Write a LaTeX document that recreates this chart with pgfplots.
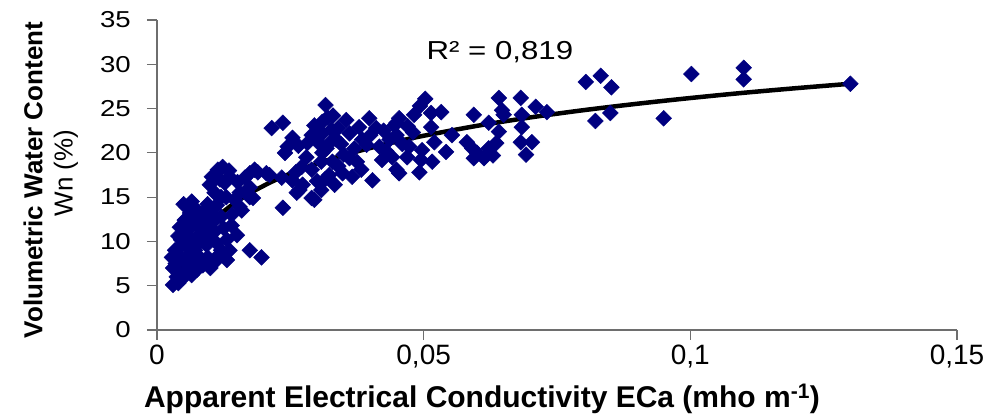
\documentclass[border=0pt]{standalone}
\usepackage{fontspec}
\setmainfont{Liberation Sans}
\usepackage{pgfplots}
\pgfplotsset{compat=1.18}
\definecolor{navy}{RGB}{0,0,128}
\definecolor{axgray}{RGB}{110,110,110}
\begin{document}
\begin{tikzpicture}
\path[use as bounding box] (0,0) rectangle (994pt,419pt);
\begin{axis}[
  at={(157pt,89pt)}, anchor=south west,
  width=800pt, height=310pt, scale only axis,
  xmin=0, xmax=0.15, ymin=0, ymax=35,
  axis lines*=left,
  axis line style={axgray, line width=1.2pt},
  tick style={axgray, line width=1.2pt},
  tick align=outside, major tick length=10pt,
  xtick={0,0.05,0.1,0.15},
  xticklabels={0,{0,05},{0,1},{0,15}},
  ytick={0,5,...,35},
  /pgf/number format/assume math mode=true,
  yticklabel style={font=\fontsize{23}{26}\selectfont, xscale=1.2, xshift=-10pt},
  xticklabel style={font=\fontsize{28}{30}\selectfont, yshift=-1pt},
  clip=false,
]
\addplot[only marks, mark=square*, mark size=5.6pt, color=navy,
  every mark/.append style={rotate=45}] coordinates {
(0.0030,5.1) (0.0037,6.0) (0.0030,7.0) (0.0028,8.2) (0.0034,9.0) (0.0043,9.3)
(0.0049,7.9) (0.0056,6.8) (0.0049,5.9) (0.0067,7.6) (0.0080,8.2) (0.0095,8.2)
(0.0112,7.9) (0.0131,7.9) (0.0136,9.0) (0.0150,10.7) (0.0131,10.2) (0.0112,9.8)
(0.0093,9.6) (0.0080,9.9) (0.0071,9.0) (0.0062,10.4) (0.0049,11.0) (0.0043,11.6)
(0.0052,12.4) (0.0062,13.2) (0.0075,13.5) (0.0090,13.5) (0.0103,13.0) (0.0095,11.9)
(0.0080,11.6) (0.0067,12.1) (0.0058,11.3) (0.0108,11.1) (0.0075,6.8) (0.0086,7.3)
(0.0040,6.5) (0.0060,8.5) (0.0114,18.1) (0.0103,17.3) (0.0099,16.4) (0.0108,15.5)
(0.0112,14.1) (0.0127,16.6) (0.0136,17.3) (0.0151,16.7) (0.0155,15.5) (0.0146,14.7)
(0.0159,13.5) (0.0174,17.7) (0.0140,13.0) (0.0174,9.0) (0.0196,8.2) (0.0123,18.4)
(0.0189,17.8) (0.0205,17.7) (0.0174,16.1) (0.0155,13.9) (0.0174,15.0) (0.0120,15.0)
(0.0065,14.5)
(0.0035,7.5) (0.0045,8.0) (0.0055,9.5) (0.0065,9.8) (0.0075,10.5) (0.0085,11.0)
(0.0100,10.3) (0.0120,9.0) (0.0125,11.5) (0.0105,12.2) (0.0085,12.5) (0.0070,13.0)
(0.0055,13.9) (0.0060,12.0) (0.0045,10.2) (0.0040,10.6) (0.0050,14.2) (0.0095,14.2)
(0.0065,6.2) (0.0040,5.3) (0.0100,7.0) (0.0118,8.6) (0.0140,11.8) (0.0120,12.8)
(0.0135,18.0) (0.0165,17.2) (0.0118,17.0) (0.0130,15.0)
(0.0316,25.4) (0.0215,22.8) (0.0236,23.4) (0.0254,21.7) (0.0245,20.7) (0.0240,20.0)
(0.0183,18.1) (0.0211,17.5) (0.0234,17.2) (0.0254,16.9) (0.0180,14.9) (0.0236,13.8)
(0.0267,15.8) (0.0290,14.9) (0.0271,18.4) (0.0282,21.1) (0.0295,23.1) (0.0310,23.5)
(0.0327,22.6) (0.0299,21.5) (0.0318,20.5) (0.0336,21.5) (0.0355,23.7) (0.0361,22.2)
(0.0379,22.9) (0.0398,23.9) (0.0411,22.8) (0.0393,20.9) (0.0417,20.7) (0.0361,19.4)
(0.0329,19.0) (0.0308,19.0) (0.0290,18.1) (0.0323,17.5) (0.0348,17.7) (0.0366,17.3)
(0.0383,18.1) (0.0404,16.9) (0.0422,19.2) (0.0441,19.5) (0.0449,18.1) (0.0449,23.4)
(0.0308,15.8) (0.0333,16.4) (0.0273,16.4) (0.0295,14.7) (0.0262,15.5) (0.0300,22.5)
(0.0320,24.0) (0.0345,21.0) (0.0310,20.0)
(0.0280,19.5) (0.0265,20.8) (0.0290,22.0) (0.0305,21.0) (0.0325,21.2) (0.0340,22.8)
(0.0350,19.8) (0.0370,20.5) (0.0385,21.5) (0.0400,22.0) (0.0375,19.0) (0.0340,18.5)
(0.0315,17.0) (0.0260,17.8) (0.0300,16.8) (0.0330,24.2) (0.0310,22.2) (0.0430,20.2)
(0.0425,22.5) (0.0470,23.0) (0.0460,21.0) (0.0480,22.3)
(0.0503,26.1) (0.0493,25.3) (0.0482,24.3) (0.0454,23.9) (0.0445,23.1) (0.0514,24.5)
(0.0533,24.6) (0.0514,22.9) (0.0449,22.0) (0.0436,21.5) (0.0473,20.7) (0.0497,20.3)
(0.0520,21.2) (0.0542,20.1) (0.0469,19.5) (0.0495,19.2) (0.0516,19.0) (0.0454,17.7)
(0.0492,17.8) (0.0553,22.0) (0.0594,24.3) (0.0581,21.2) (0.0591,20.5) (0.0600,20.0)
(0.0613,19.4) (0.0622,20.5) (0.0622,23.4) (0.0641,26.2) (0.0647,24.8) (0.0650,24.3)
(0.0641,22.4) (0.0636,21.1) (0.0682,26.2) (0.0710,25.2) (0.0731,24.6) (0.0684,24.3)
(0.0684,22.9) (0.0682,21.2) (0.0703,21.2) (0.0692,19.8) (0.0594,19.4) (0.0630,19.7)
(0.0804,28.0) (0.0832,28.7) (0.0852,27.4) (0.0850,24.5) (0.0822,23.6) (0.1002,28.9)
(0.0950,23.9) (0.1100,29.6) (0.1100,28.3) (0.1300,27.8)
};
\addplot[black, line width=4.5pt, smooth] coordinates {
(0.0034,5.39) (0.004,6.40) (0.005,7.77) (0.006,8.89) (0.007,9.83) (0.008,10.66)
(0.010,12.03) (0.012,13.15) (0.015,14.52) (0.018,15.64) (0.022,16.88) (0.026,17.90)
(0.030,18.78) (0.035,19.74) (0.040,20.55) (0.045,21.28) (0.050,21.93) (0.060,23.05)
(0.070,24.00) (0.080,24.82) (0.090,25.54) (0.100,26.19) (0.110,26.78) (0.120,27.31)
(0.130,27.80)
};
\node[font=\fontsize{26}{28}\selectfont, xscale=1.2, anchor=center] at (axis cs:0.0643,31.4) {R² = 0,819};
\end{axis}
\node[font=\bfseries\fontsize{30}{32}\selectfont, anchor=center] at (482pt,20pt) {Apparent Electrical Conductivity ECa (mho m\textsuperscript{-1})};
\node[rotate=90, anchor=center, font=\bfseries\fontsize{26}{30}\selectfont] at (33pt,239pt) {Volumetric Water Content};
\node[rotate=90, anchor=center, font=\fontsize{26}{30}\selectfont] at (66pt,246pt) {Wn (\%)};
\end{tikzpicture}
\end{document}
